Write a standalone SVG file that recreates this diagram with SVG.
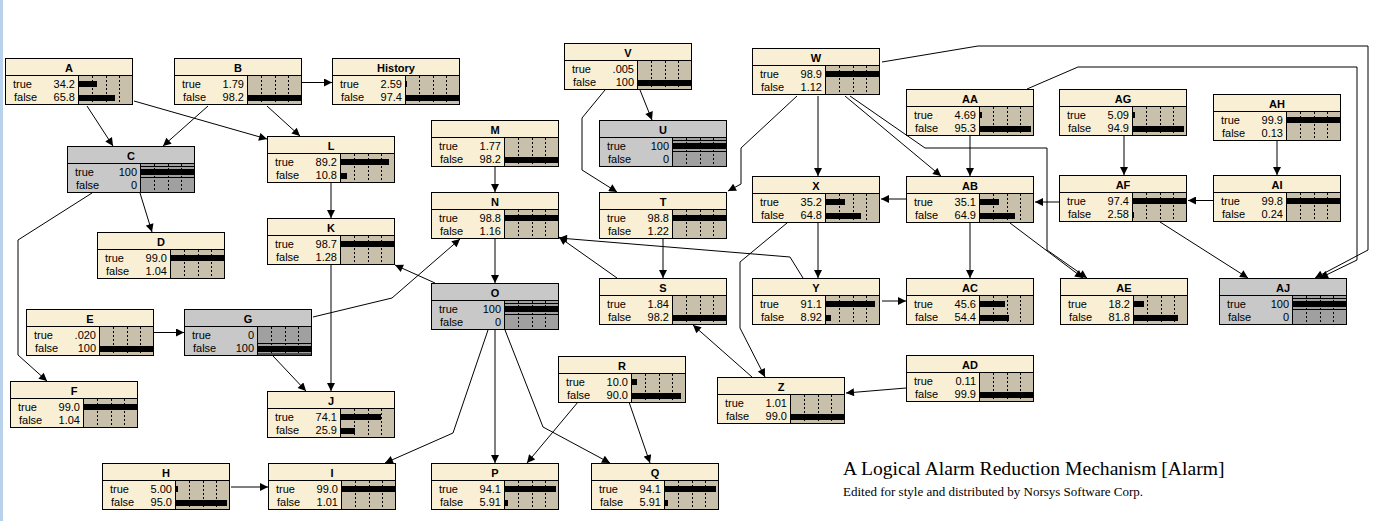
<svg xmlns="http://www.w3.org/2000/svg" xmlns:xlink="http://www.w3.org/1999/xlink" width="1381" height="521" viewBox="0 0 1381 521">
<style>
.t{font:bold 11px "Liberation Sans",Arial,sans-serif;text-anchor:middle;fill:#000}
.l{font:11px "Liberation Sans",Arial,sans-serif;fill:#000}
.v{font:11px "Liberation Sans",Arial,sans-serif;text-anchor:end;fill:#000}
.e{fill:none;stroke:#000;stroke-width:1;marker-end:url(#ar)}
</style>
<defs>
<marker id="ar" viewBox="0 0 10 10" refX="10" refY="5" markerWidth="9" markerHeight="8" markerUnits="userSpaceOnUse" orient="auto"><path d="M0,0L10,5L0,10z" fill="#000"/></marker>
<g id="fc">
<rect x="0" y="0" width="128" height="47" fill="#f8efd4"/>
<rect x="74" y="18" width="54" height="29" fill="#c8c0aa"/>
<path d="M87.5,18V47M101.5,18V47M114.5,18V47" stroke="#000" stroke-width="1" stroke-dasharray="2,2"/>
<path d="M0,17.5H128M73.5,18V47" stroke="#000" stroke-width="1"/>
<rect x="0.5" y="0.5" width="127" height="46" fill="none" stroke="#000" stroke-width="1"/>
</g>
<g id="fg">
<rect x="0" y="0" width="128" height="47" fill="#c8c8c8"/>
<rect x="74" y="18" width="54" height="29" fill="#a0a0a0"/>
<path d="M87.5,18V47M101.5,18V47M114.5,18V47" stroke="#000" stroke-width="1" stroke-dasharray="2,2"/>
<path d="M0,17.5H128M73.5,18V47" stroke="#000" stroke-width="1"/>
<rect x="0.5" y="0.5" width="127" height="46" fill="none" stroke="#000" stroke-width="1"/>
</g>
<path id="ft" d="M74,20.5H128M74,31.5H128" stroke="#000" stroke-width="1"/>
<path id="ff" d="M74,34.5H128M74,45H128" stroke="#000" stroke-width="1"/>
</defs>
<rect x="0" y="0" width="1381" height="521" fill="#fff"/>
<rect x="0" y="0" width="3" height="521" fill="#b9d1ea"/>

<g id="connectors">
<path class="e" d="M87,106L113,146"/>
<path class="e" d="M208,106L163,146"/>
<path class="e" d="M134,101L267,139"/>
<path class="e" d="M267,106L300,136"/>
<path class="e" d="M302,82.5L332,82.5"/>
<path class="e" d="M140,193L152,232"/>
<path class="e" d="M92,193L18,240L18,355L47,381"/>
<path class="e" d="M331,183L331,218"/>
<path class="e" d="M331,265L331,391"/>
<path class="e" d="M154,332.5L184,332.5"/>
<path class="e" d="M273,356L306,391"/>
<path class="e" d="M313,317L392,298L460,239"/>
<path class="e" d="M435,283L395,265"/>
<path class="e" d="M495,167L495,192"/>
<path class="e" d="M495,239L495,283"/>
<path class="e" d="M488,330L453,433L385,463"/>
<path class="e" d="M495,330L495,463"/>
<path class="e" d="M505,330L543,427L610,463"/>
<path class="e" d="M578,402L527,463"/>
<path class="e" d="M629,402L650,463"/>
<path class="e" d="M231,487L268,487"/>
<path class="e" d="M640,90L652,120"/>
<path class="e" d="M605,90L582,118L582,170L617,192"/>
<path class="e" d="M797,96L741,148L741,184L728,191"/>
<path class="e" d="M818,96L818,176"/>
<path class="e" d="M845,96L941,176"/>
<path class="e" d="M850,96L925,148L1047,148L1047,250L1087,278"/>
<path class="e" d="M882,62L978,46L1368,46L1368,250L1315,278"/>
<path class="e" d="M1027,89L1078,67L1357,67L1357,260L1320,278"/>
<path class="e" d="M970,136L970,176"/>
<path class="e" d="M1124,136L1124,175"/>
<path class="e" d="M1277,141L1277,175"/>
<path class="e" d="M1213,200.5L1188,200.5"/>
<path class="e" d="M1059,202L1035,202"/>
<path class="e" d="M906,199L881,199"/>
<path class="e" d="M1160,222L1248,278"/>
<path class="e" d="M970,223L970,278"/>
<path class="e" d="M1010,223L1083,278"/>
<path class="e" d="M818,223L818,278"/>
<path class="e" d="M787,223L740,262L740,328L765,377"/>
<path class="e" d="M882,301L906,301"/>
<path class="e" d="M803,278L790,257L559,238"/>
<path class="e" d="M617,278L559,237"/>
<path class="e" d="M663,239L663,278"/>
<path class="e" d="M752,377L693,325"/>
<path class="e" d="M906,388L846,393"/>
</g>

<g id="A" transform="translate(5,58)"><use href="#fc"/><text class="t" x="64" y="14">A</text><text class="l" x="8" y="29.5">true</text><text class="v" x="70" y="29.5">34.2</text><text class="l" x="9" y="42.5">false</text><text class="v" x="70" y="42.5">65.8</text><rect x="74" y="23" width="18" height="6"/><rect x="74" y="37" width="36" height="6"/></g>
<g id="B" transform="translate(174,58)"><use href="#fc"/><text class="t" x="64" y="14">B</text><text class="l" x="8" y="29.5">true</text><text class="v" x="70" y="29.5">1.79</text><text class="l" x="9" y="42.5">false</text><text class="v" x="70" y="42.5">98.2</text><rect x="74" y="37" width="53" height="6"/></g>
<g id="History" transform="translate(332,58)"><use href="#fc"/><text class="t" x="64" y="14">History</text><text class="l" x="8" y="29.5">true</text><text class="v" x="70" y="29.5">2.59</text><text class="l" x="9" y="42.5">false</text><text class="v" x="70" y="42.5">97.4</text><rect x="74" y="23" width="1" height="6"/><rect x="74" y="37" width="53" height="6"/></g>
<g id="C" transform="translate(67,146)"><use href="#fg"/><use href="#ft"/><text class="t" x="64" y="14">C</text><text class="l" x="8" y="29.5">true</text><text class="v" x="70" y="29.5">100</text><text class="l" x="9" y="42.5">false</text><text class="v" x="70" y="42.5">0</text><rect x="74" y="23" width="54" height="6"/></g>
<g id="L" transform="translate(267,136)"><use href="#fc"/><text class="t" x="64" y="14">L</text><text class="l" x="8" y="29.5">true</text><text class="v" x="70" y="29.5">89.2</text><text class="l" x="9" y="42.5">false</text><text class="v" x="70" y="42.5">10.8</text><rect x="74" y="23" width="48" height="6"/><rect x="74" y="37" width="6" height="6"/></g>
<g id="M" transform="translate(431,120)"><use href="#fc"/><text class="t" x="64" y="14">M</text><text class="l" x="8" y="29.5">true</text><text class="v" x="70" y="29.5">1.77</text><text class="l" x="9" y="42.5">false</text><text class="v" x="70" y="42.5">98.2</text><rect x="74" y="37" width="53" height="6"/></g>
<g id="N" transform="translate(431,192)"><use href="#fc"/><text class="t" x="64" y="14">N</text><text class="l" x="8" y="29.5">true</text><text class="v" x="70" y="29.5">98.8</text><text class="l" x="9" y="42.5">false</text><text class="v" x="70" y="42.5">1.16</text><rect x="74" y="23" width="53" height="6"/></g>
<g id="V" transform="translate(564,43)"><use href="#fc"/><text class="t" x="64" y="14">V</text><text class="l" x="8" y="29.5">true</text><text class="v" x="70" y="29.5">.005</text><text class="l" x="9" y="42.5">false</text><text class="v" x="70" y="42.5">100</text><rect x="74" y="37" width="54" height="6"/></g>
<g id="U" transform="translate(599,120)"><use href="#fg"/><use href="#ft"/><text class="t" x="64" y="14">U</text><text class="l" x="8" y="29.5">true</text><text class="v" x="70" y="29.5">100</text><text class="l" x="9" y="42.5">false</text><text class="v" x="70" y="42.5">0</text><rect x="74" y="23" width="54" height="6"/></g>
<g id="T" transform="translate(599,192)"><use href="#fc"/><text class="t" x="64" y="14">T</text><text class="l" x="8" y="29.5">true</text><text class="v" x="70" y="29.5">98.8</text><text class="l" x="9" y="42.5">false</text><text class="v" x="70" y="42.5">1.22</text><rect x="74" y="23" width="53" height="6"/></g>
<g id="W" transform="translate(752,48)"><use href="#fc"/><text class="t" x="64" y="14">W</text><text class="l" x="8" y="29.5">true</text><text class="v" x="70" y="29.5">98.9</text><text class="l" x="9" y="42.5">false</text><text class="v" x="70" y="42.5">1.12</text><rect x="74" y="23" width="53" height="6"/></g>
<g id="AA" transform="translate(906,89)"><use href="#fc"/><text class="t" x="64" y="14">AA</text><text class="l" x="8" y="29.5">true</text><text class="v" x="70" y="29.5">4.69</text><text class="l" x="9" y="42.5">false</text><text class="v" x="70" y="42.5">95.3</text><rect x="74" y="23" width="2" height="6"/><rect x="74" y="37" width="51" height="6"/></g>
<g id="AG" transform="translate(1059,89)"><use href="#fc"/><text class="t" x="64" y="14">AG</text><text class="l" x="8" y="29.5">true</text><text class="v" x="70" y="29.5">5.09</text><text class="l" x="9" y="42.5">false</text><text class="v" x="70" y="42.5">94.9</text><rect x="74" y="23" width="2" height="6"/><rect x="74" y="37" width="51" height="6"/></g>
<g id="AH" transform="translate(1213,94)"><use href="#fc"/><text class="t" x="64" y="14">AH</text><text class="l" x="8" y="29.5">true</text><text class="v" x="70" y="29.5">99.9</text><text class="l" x="9" y="42.5">false</text><text class="v" x="70" y="42.5">0.13</text><rect x="74" y="23" width="54" height="6"/></g>
<g id="X" transform="translate(752,176)"><use href="#fc"/><text class="t" x="64" y="14">X</text><text class="l" x="8" y="29.5">true</text><text class="v" x="70" y="29.5">35.2</text><text class="l" x="9" y="42.5">false</text><text class="v" x="70" y="42.5">64.8</text><rect x="74" y="23" width="19" height="6"/><rect x="74" y="37" width="35" height="6"/></g>
<g id="AB" transform="translate(906,176)"><use href="#fc"/><text class="t" x="64" y="14">AB</text><text class="l" x="8" y="29.5">true</text><text class="v" x="70" y="29.5">35.1</text><text class="l" x="9" y="42.5">false</text><text class="v" x="70" y="42.5">64.9</text><rect x="74" y="23" width="19" height="6"/><rect x="74" y="37" width="35" height="6"/></g>
<g id="AF" transform="translate(1059,175)"><use href="#fc"/><text class="t" x="64" y="14">AF</text><text class="l" x="8" y="29.5">true</text><text class="v" x="70" y="29.5">97.4</text><text class="l" x="9" y="42.5">false</text><text class="v" x="70" y="42.5">2.58</text><rect x="74" y="23" width="53" height="6"/><rect x="74" y="37" width="1" height="6"/></g>
<g id="AI" transform="translate(1213,175)"><use href="#fc"/><text class="t" x="64" y="14">AI</text><text class="l" x="8" y="29.5">true</text><text class="v" x="70" y="29.5">99.8</text><text class="l" x="9" y="42.5">false</text><text class="v" x="70" y="42.5">0.24</text><rect x="74" y="23" width="54" height="6"/></g>
<g id="D" transform="translate(97,232)"><use href="#fc"/><text class="t" x="64" y="14">D</text><text class="l" x="8" y="29.5">true</text><text class="v" x="70" y="29.5">99.0</text><text class="l" x="9" y="42.5">false</text><text class="v" x="70" y="42.5">1.04</text><rect x="74" y="23" width="53" height="6"/></g>
<g id="K" transform="translate(267,218)"><use href="#fc"/><text class="t" x="64" y="14">K</text><text class="l" x="8" y="29.5">true</text><text class="v" x="70" y="29.5">98.7</text><text class="l" x="9" y="42.5">false</text><text class="v" x="70" y="42.5">1.28</text><rect x="74" y="23" width="53" height="6"/></g>
<g id="E" transform="translate(26,309)"><use href="#fc"/><text class="t" x="64" y="14">E</text><text class="l" x="8" y="29.5">true</text><text class="v" x="70" y="29.5">.020</text><text class="l" x="9" y="42.5">false</text><text class="v" x="70" y="42.5">100</text><rect x="74" y="37" width="54" height="6"/></g>
<g id="G" transform="translate(184,309)"><use href="#fg"/><use href="#ff"/><text class="t" x="64" y="14">G</text><text class="l" x="8" y="29.5">true</text><text class="v" x="70" y="29.5">0</text><text class="l" x="9" y="42.5">false</text><text class="v" x="70" y="42.5">100</text><rect x="74" y="37" width="54" height="6"/></g>
<g id="F" transform="translate(10,381)"><use href="#fc"/><text class="t" x="64" y="14">F</text><text class="l" x="8" y="29.5">true</text><text class="v" x="70" y="29.5">99.0</text><text class="l" x="9" y="42.5">false</text><text class="v" x="70" y="42.5">1.04</text><rect x="74" y="23" width="53" height="6"/></g>
<g id="J" transform="translate(267,391)"><use href="#fc"/><text class="t" x="64" y="14">J</text><text class="l" x="8" y="29.5">true</text><text class="v" x="70" y="29.5">74.1</text><text class="l" x="9" y="42.5">false</text><text class="v" x="70" y="42.5">25.9</text><rect x="74" y="23" width="40" height="6"/><rect x="74" y="37" width="14" height="6"/></g>
<g id="O" transform="translate(431,283)"><use href="#fg"/><use href="#ft"/><text class="t" x="64" y="14">O</text><text class="l" x="8" y="29.5">true</text><text class="v" x="70" y="29.5">100</text><text class="l" x="9" y="42.5">false</text><text class="v" x="70" y="42.5">0</text><rect x="74" y="23" width="54" height="6"/></g>
<g id="S" transform="translate(599,278)"><use href="#fc"/><text class="t" x="64" y="14">S</text><text class="l" x="8" y="29.5">true</text><text class="v" x="70" y="29.5">1.84</text><text class="l" x="9" y="42.5">false</text><text class="v" x="70" y="42.5">98.2</text><rect x="74" y="37" width="53" height="6"/></g>
<g id="Y" transform="translate(752,278)"><use href="#fc"/><text class="t" x="64" y="14">Y</text><text class="l" x="8" y="29.5">true</text><text class="v" x="70" y="29.5">91.1</text><text class="l" x="9" y="42.5">false</text><text class="v" x="70" y="42.5">8.92</text><rect x="74" y="23" width="49" height="6"/><rect x="74" y="37" width="5" height="6"/></g>
<g id="AC" transform="translate(906,278)"><use href="#fc"/><text class="t" x="64" y="14">AC</text><text class="l" x="8" y="29.5">true</text><text class="v" x="70" y="29.5">45.6</text><text class="l" x="9" y="42.5">false</text><text class="v" x="70" y="42.5">54.4</text><rect x="74" y="23" width="25" height="6"/><rect x="74" y="37" width="29" height="6"/></g>
<g id="AE" transform="translate(1060,278)"><use href="#fc"/><text class="t" x="64" y="14">AE</text><text class="l" x="8" y="29.5">true</text><text class="v" x="70" y="29.5">18.2</text><text class="l" x="9" y="42.5">false</text><text class="v" x="70" y="42.5">81.8</text><rect x="74" y="23" width="10" height="6"/><rect x="74" y="37" width="44" height="6"/></g>
<g id="AJ" transform="translate(1219,278)"><use href="#fg"/><use href="#ft"/><text class="t" x="64" y="14">AJ</text><text class="l" x="8" y="29.5">true</text><text class="v" x="70" y="29.5">100</text><text class="l" x="9" y="42.5">false</text><text class="v" x="70" y="42.5">0</text><rect x="74" y="23" width="54" height="6"/></g>
<g id="R" transform="translate(558,356)"><use href="#fc"/><text class="t" x="64" y="14">R</text><text class="l" x="8" y="29.5">true</text><text class="v" x="70" y="29.5">10.0</text><text class="l" x="9" y="42.5">false</text><text class="v" x="70" y="42.5">90.0</text><rect x="74" y="23" width="5" height="6"/><rect x="74" y="37" width="49" height="6"/></g>
<g id="Z" transform="translate(717,377)"><use href="#fc"/><text class="t" x="64" y="14">Z</text><text class="l" x="8" y="29.5">true</text><text class="v" x="70" y="29.5">1.01</text><text class="l" x="9" y="42.5">false</text><text class="v" x="70" y="42.5">99.0</text><rect x="74" y="37" width="53" height="6"/></g>
<g id="AD" transform="translate(906,355)"><use href="#fc"/><text class="t" x="64" y="14">AD</text><text class="l" x="8" y="29.5">true</text><text class="v" x="70" y="29.5">0.11</text><text class="l" x="9" y="42.5">false</text><text class="v" x="70" y="42.5">99.9</text><rect x="74" y="37" width="54" height="6"/></g>
<g id="H" transform="translate(102,463)"><use href="#fc"/><text class="t" x="64" y="14">H</text><text class="l" x="8" y="29.5">true</text><text class="v" x="70" y="29.5">5.00</text><text class="l" x="9" y="42.5">false</text><text class="v" x="70" y="42.5">95.0</text><rect x="74" y="23" width="2" height="6"/><rect x="74" y="37" width="51" height="6"/></g>
<g id="I" transform="translate(268,463)"><use href="#fc"/><text class="t" x="64" y="14">I</text><text class="l" x="8" y="29.5">true</text><text class="v" x="70" y="29.5">99.0</text><text class="l" x="9" y="42.5">false</text><text class="v" x="70" y="42.5">1.01</text><rect x="74" y="23" width="53" height="6"/></g>
<g id="P" transform="translate(431,463)"><use href="#fc"/><text class="t" x="64" y="14">P</text><text class="l" x="8" y="29.5">true</text><text class="v" x="70" y="29.5">94.1</text><text class="l" x="9" y="42.5">false</text><text class="v" x="70" y="42.5">5.91</text><rect x="74" y="23" width="51" height="6"/><rect x="74" y="37" width="3" height="6"/></g>
<g id="Q" transform="translate(591,463)"><use href="#fc"/><text class="t" x="64" y="14">Q</text><text class="l" x="8" y="29.5">true</text><text class="v" x="70" y="29.5">94.1</text><text class="l" x="9" y="42.5">false</text><text class="v" x="70" y="42.5">5.91</text><rect x="74" y="23" width="51" height="6"/><rect x="74" y="37" width="3" height="6"/></g>

<text x="843" y="475" style="font:19.6px 'Liberation Serif','Times New Roman',serif;fill:#000">A Logical Alarm Reduction Mechanism [Alarm]</text>
<text x="843" y="496" style="font:13px 'Liberation Serif','Times New Roman',serif;fill:#000">Edited for style and distributed by Norsys Software Corp.</text>
</svg>
